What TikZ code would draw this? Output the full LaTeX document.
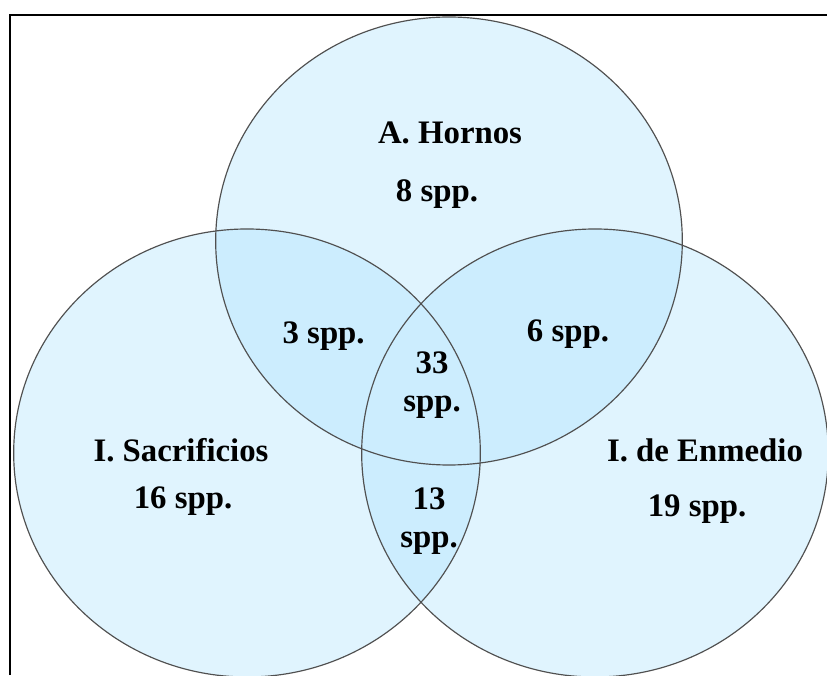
\documentclass[tikz,border=0pt]{standalone}
\usepackage{fontspec}
\setmainfont{Liberation Serif}
\definecolor{vennfill}{RGB}{224,244,254}
\definecolor{vennover}{RGB}{204,237,254}
\definecolor{venngray}{RGB}{80,80,80}
\usetikzlibrary{positioning}

\begin{document}
\begin{tikzpicture}[font=\fontsize{28}{33}\selectfont\bfseries]
    \tikzset{vennshape/.style={x radius=7cm, y radius=6.72cm}}
    \tikzset{vennline/.style={draw=venngray, line width=1pt}}
    \tikzset{setname/.style={anchor=base, inner sep=0pt}}
    \tikzset{overlap/.style={align=center, inner sep=0pt}}
    \useasboundingbox (0,0) rectangle (24.81,20.25);

    % Circle centres
    \coordinate (hornos) at (13.47,13.02);
    \coordinate (sacr)   at (7.41,6.66);
    \coordinate (enmed)  at (17.85,6.66);

    % Plain fills
    \foreach \c in {hornos, sacr, enmed}{
      \fill[vennfill] (\c) ellipse[vennshape];
    }
    % Overlaps
    \begin{scope}
      \clip (hornos) ellipse[vennshape];
      \fill[vennover] (sacr) ellipse[vennshape];
      \fill[vennover] (enmed) ellipse[vennshape];
    \end{scope}
    \begin{scope}
      \clip (sacr) ellipse[vennshape];
      \fill[vennover] (enmed) ellipse[vennshape];
    \end{scope}
    % Outlines
    \foreach \c in {hornos, sacr, enmed}{
      \draw[vennline] (\c) ellipse[vennshape];
    }

    % Frame
    \coordinate (fbot) at (0.3,0);
    \coordinate (fcorner) at (0.3,19.8);
    \coordinate (fright) at (24.81,19.8);
    \draw[line width=1.8pt] (fbot) -- (fcorner) -- (fright);

    % Labels
    \node[setname] (hornoslbl) at (13.5,15.93) {A. Hornos};
    \node[setname] (hornosnum) at (13.11,14.2)  {8 spp.};
    \node[setname] (sacrlbl)   at (5.43,6.42)  {I. Sacrificios};
    \node[setname] (sacrnum)   at (5.49,4.98)  {16 spp.};
    \node[setname] (enmedlbl)  at (21.15,6.42) {I. de Enmedio};
    \node[setname] (enmednum)  at (20.91,4.77) {19 spp.};
    \node[setname] (hsnum)     at (9.71,9.93)  {3 spp.};
    \node[setname] (henum)     at (17.04,9.99) {6 spp.};
    \node[overlap] (allnum)    at (12.96,8.7)  {33\\spp.};
    \node[overlap] (senum)     at (12.87,4.62) {13\\spp.};
\end{tikzpicture}
\end{document}
